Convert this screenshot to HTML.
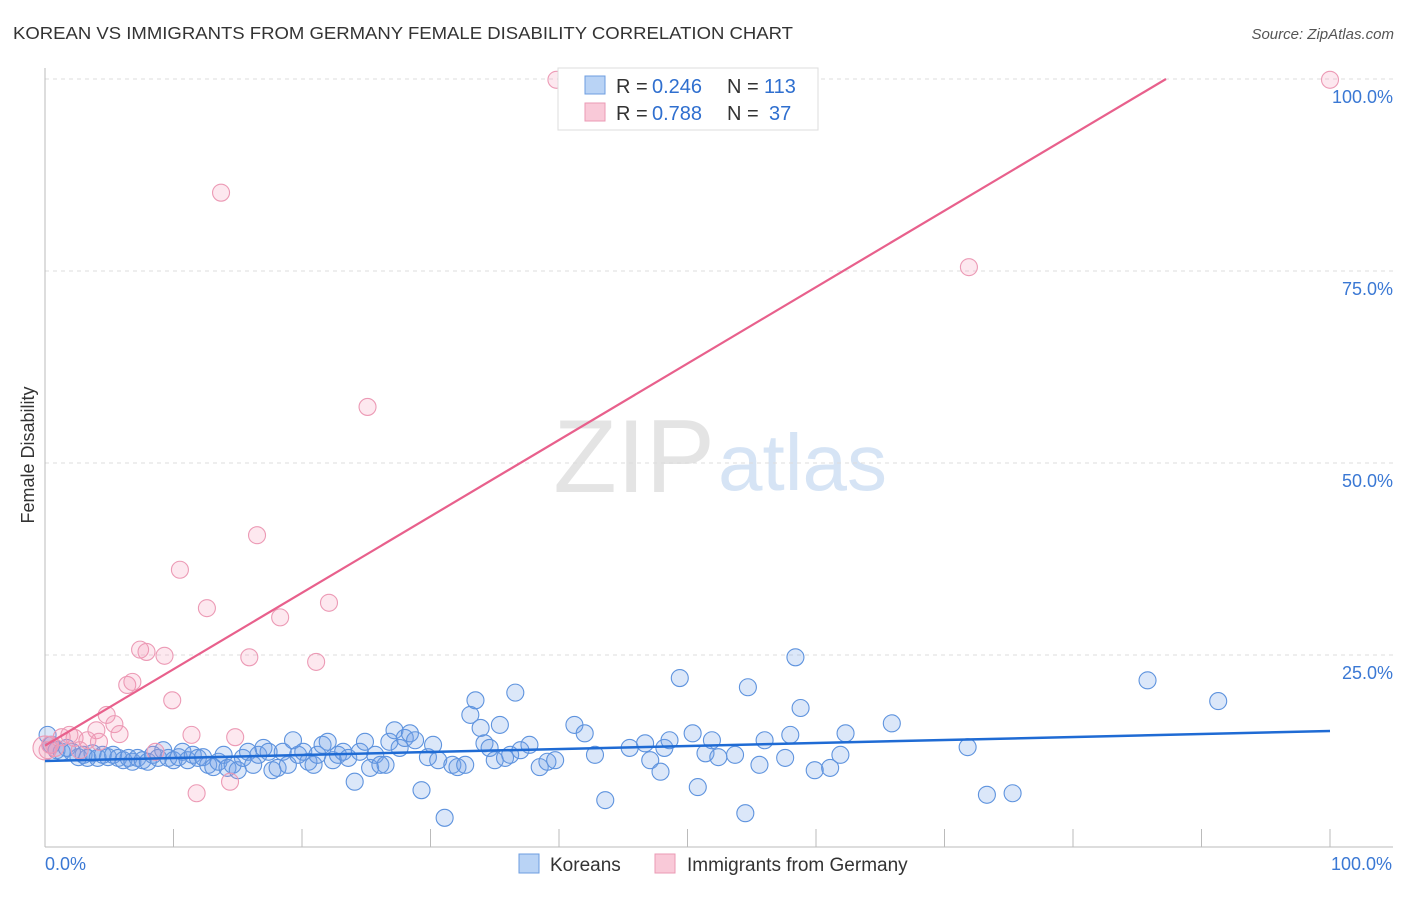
<!DOCTYPE html>
<html><head><meta charset="utf-8"><style>
body{margin:0;background:#fff;font-family:"Liberation Sans",sans-serif}
svg text{font-family:"Liberation Sans",sans-serif}
</style></head><body>
<svg id="c" width="1406" height="892">
<text x="13" y="39" font-size="17.5" fill="#333" textLength="780" lengthAdjust="spacingAndGlyphs">KOREAN VS IMMIGRANTS FROM GERMANY FEMALE DISABILITY CORRELATION CHART</text>
<text x="1394" y="39" font-size="15" fill="#555" font-style="italic" text-anchor="end">Source: ZipAtlas.com</text>
<text x="715" y="492" font-size="104" fill="#e4e4e4" text-anchor="end" font-family="Liberation Serif">ZIP</text>
<text x="718" y="490" font-size="80" fill="#d6e4f5">atlas</text>
<text transform="translate(34,455) rotate(-90)" font-size="18" fill="#333" text-anchor="middle">Female Disability</text>
<g id="grid"></g><g id="pts"></g><g id="lines"></g>
<g>
<rect x="558" y="68" width="260" height="62" fill="#fff" stroke="#ddd"/>
<rect x="585" y="76" width="20" height="18" fill="#b9d3f5" stroke="#6d9ee0"/>
<rect x="585" y="103" width="20" height="18" fill="#f9c9d8" stroke="#eb9ab4"/>
<text x="616" y="93" font-size="20" fill="#333">R =</text><text x="652" y="93" font-size="20" fill="#2f6fcf">0.246</text>
<text x="727" y="93" font-size="20" fill="#333">N =</text><text x="764" y="93" font-size="20" fill="#2f6fcf">113</text>
<text x="616" y="120" font-size="20" fill="#333">R =</text><text x="652" y="120" font-size="20" fill="#2f6fcf">0.788</text>
<text x="727" y="120" font-size="20" fill="#333">N =</text><text x="769" y="120" font-size="20" fill="#2f6fcf">37</text>
</g>
<g>
<rect x="519" y="854" width="20" height="19" fill="#b9d3f5" stroke="#6d9ee0"/>
<text x="550" y="871" font-size="19" fill="#333">Koreans</text>
<rect x="655" y="854" width="20" height="19" fill="#f9c9d8" stroke="#eb9ab4"/>
<text x="687" y="871" font-size="19" fill="#333">Immigrants from Germany</text>
</g>
</svg>
<script>
const xTickVals=[0,10,20,30,40,50,60,70,80,90,100];
const yTickVals=[25,50,75,100];
const yTickLabels=["25.0%","50.0%","75.0%","100.0%"];
const xEndLabels=["0.0%","100.0%"];
const koreansX=[0.2,0.5,0.9,1.3,1.7,2.1,2.6,3.0,3.3,3.7,4.1,4.5,4.9,5.3,5.7,6.1,6.5,6.8,7.2,7.6,8.0,8.4,8.8,9.2,9.6,10.0,10.4,10.7,11.1,11.5,11.9,12.3,12.7,13.1,13.5,13.9,14.2,14.6,15.0,15.4,15.8,16.2,16.6,17.0,17.4,17.7,18.1,18.5,18.9,19.3,19.7,20.1,20.5,20.9,21.2,21.6,22.0,22.4,22.8,23.2,23.6,24.1,24.5,24.9,25.3,25.7,26.1,26.5,26.8,27.2,27.6,28.0,28.4,28.8,29.3,29.8,30.2,30.6,31.1,31.7,32.1,32.7,33.1,33.5,33.9,34.2,34.6,35.0,35.4,35.8,36.2,36.6,37.0,37.7,38.5,39.1,39.7,41.2,42.0,42.8,43.6,45.5,46.7,47.1,47.9,48.2,48.6,49.4,50.4,50.8,51.4,51.9,52.4,53.7,54.5,54.7,55.6,56.0,57.6,58.0,58.4,58.8,59.9,61.1,61.9,62.3,65.9,71.8,73.3,75.3,85.8,91.3];
const koreansY=[14.6,13.3,12.6,12.4,12.9,12.4,11.7,12.0,11.6,12.2,11.6,12.0,11.7,12.0,11.6,11.3,11.6,11.1,11.6,11.3,11.1,12.0,11.6,12.6,11.6,11.3,11.7,12.4,11.3,12.0,11.6,11.7,10.7,10.4,11.1,12.0,10.3,10.7,10.0,11.6,12.4,10.7,12.0,12.9,12.4,10.0,10.3,12.4,10.7,13.9,12.0,12.4,11.1,10.7,12.0,13.3,13.7,11.3,12.0,12.4,11.6,8.5,12.4,13.7,10.3,12.0,10.7,10.7,13.7,15.2,12.9,14.2,14.8,13.9,7.4,11.7,13.3,11.3,3.8,10.7,10.4,10.7,17.2,19.1,15.5,13.5,12.9,11.3,15.9,11.6,12.0,20.1,12.6,13.3,10.4,11.1,11.3,15.9,14.8,12.0,6.1,12.9,13.5,11.3,9.8,12.9,13.9,22.0,14.8,7.8,12.2,13.9,11.7,12.0,4.4,20.8,10.7,13.9,11.6,14.6,24.7,18.1,10.0,10.3,12.0,14.8,16.1,13.0,6.8,7.0,21.7,19.0];
const germanyX=[39.8,100,13.7,71.9,25.1,16.5,10.5,12.6,22.1,18.3,7.4,7.9,9.3,15.9,21.1,6.4,6.8,9.9,4.8,5.4,5.8,4.0,1.9,2.3,1.3,11.4,14.8,8.6,3.3,4.2,0.4,0.8,11.8,14.4,0.2,0,2.7];
const germanyY=[99.9,99.9,85.2,75.5,57.3,40.6,36.1,31.1,31.8,29.9,25.7,25.4,24.9,24.7,24.1,21.1,21.5,19.1,17.2,16.0,14.7,15.2,14.6,14.2,14.3,14.6,14.3,12.4,13.9,13.7,13.3,12.9,7.0,8.5,12.6,12.9,12.6];
const koreansTrend=[11.2,0.039]; // intercept, slope
const germanyTrend=[13.2,0.995];
const X=v=>45+v*12.85, Y=v=>847-v*7.68;
const NS="http://www.w3.org/2000/svg";
function mk(p,t,a){const e=document.createElementNS(NS,t);for(const k in a)e.setAttribute(k,a[k]);p.appendChild(e);return e;}
const grid=document.getElementById('grid');
yTickVals.forEach((v,i)=>{
 const l=mk(grid,'line',{x1:45,x2:1393,y1:Y(v),y2:Y(v),stroke:'#ddd','stroke-dasharray':'4,4'});
 
 
 const t=mk(grid,'text',{x:1393,y:Y(v)+24,'font-size':18,fill:'#3a78d4','text-anchor':'end'});
 t.textContent=yTickLabels[i];
 
 
});
mk(grid,'line',{x1:45,x2:45,y1:68,y2:847,stroke:'#bbb'});
mk(grid,'line',{x1:45,x2:1393,y1:847,y2:847,stroke:'#bbb'});
xTickVals.forEach(v=>{
 const l=mk(grid,'line',{x1:X(v),x2:X(v),y1:829,y2:847,stroke:'#bbb'});
 
 
});
[[0,'start'],[100,'end']].forEach((a,i)=>{
 const t=mk(grid,'text',{x:X(a[0])+(i?62:0),y:870,'font-size':18,fill:'#3a78d4','text-anchor':a[1]});
 t.textContent=xEndLabels[i];
 
 
});
const pts=document.getElementById('pts');
koreansX.forEach((x,i)=>{
 const c=mk(pts,'circle',{cx:X(x),cy:Y(koreansY[i]),r:8.5,fill:'rgba(110,160,230,0.25)',stroke:'#5e93de','stroke-width':1.1});
 
 
});
germanyX.forEach((x,i)=>{
 const c=mk(pts,'circle',{cx:X(x),cy:Y(germanyY[i]),r:i==35?12:8.5,fill:'rgba(245,150,180,0.22)',stroke:'#ec9ab5','stroke-width':1.1});
 
 
});
const lines=document.getElementById('lines');
const kl=mk(lines,'line',{x1:X(0),y1:Y(koreansTrend[0]),x2:X(100),y2:Y(koreansTrend[0]+100*koreansTrend[1]),stroke:'#1f6bd4','stroke-width':2.5});


const xe=(100-germanyTrend[0])/germanyTrend[1];
const gl=mk(lines,'line',{x1:X(0),y1:Y(germanyTrend[0]),x2:X(xe),y2:Y(100),stroke:'#e8608c','stroke-width':2.2});


</script>
</body></html>
